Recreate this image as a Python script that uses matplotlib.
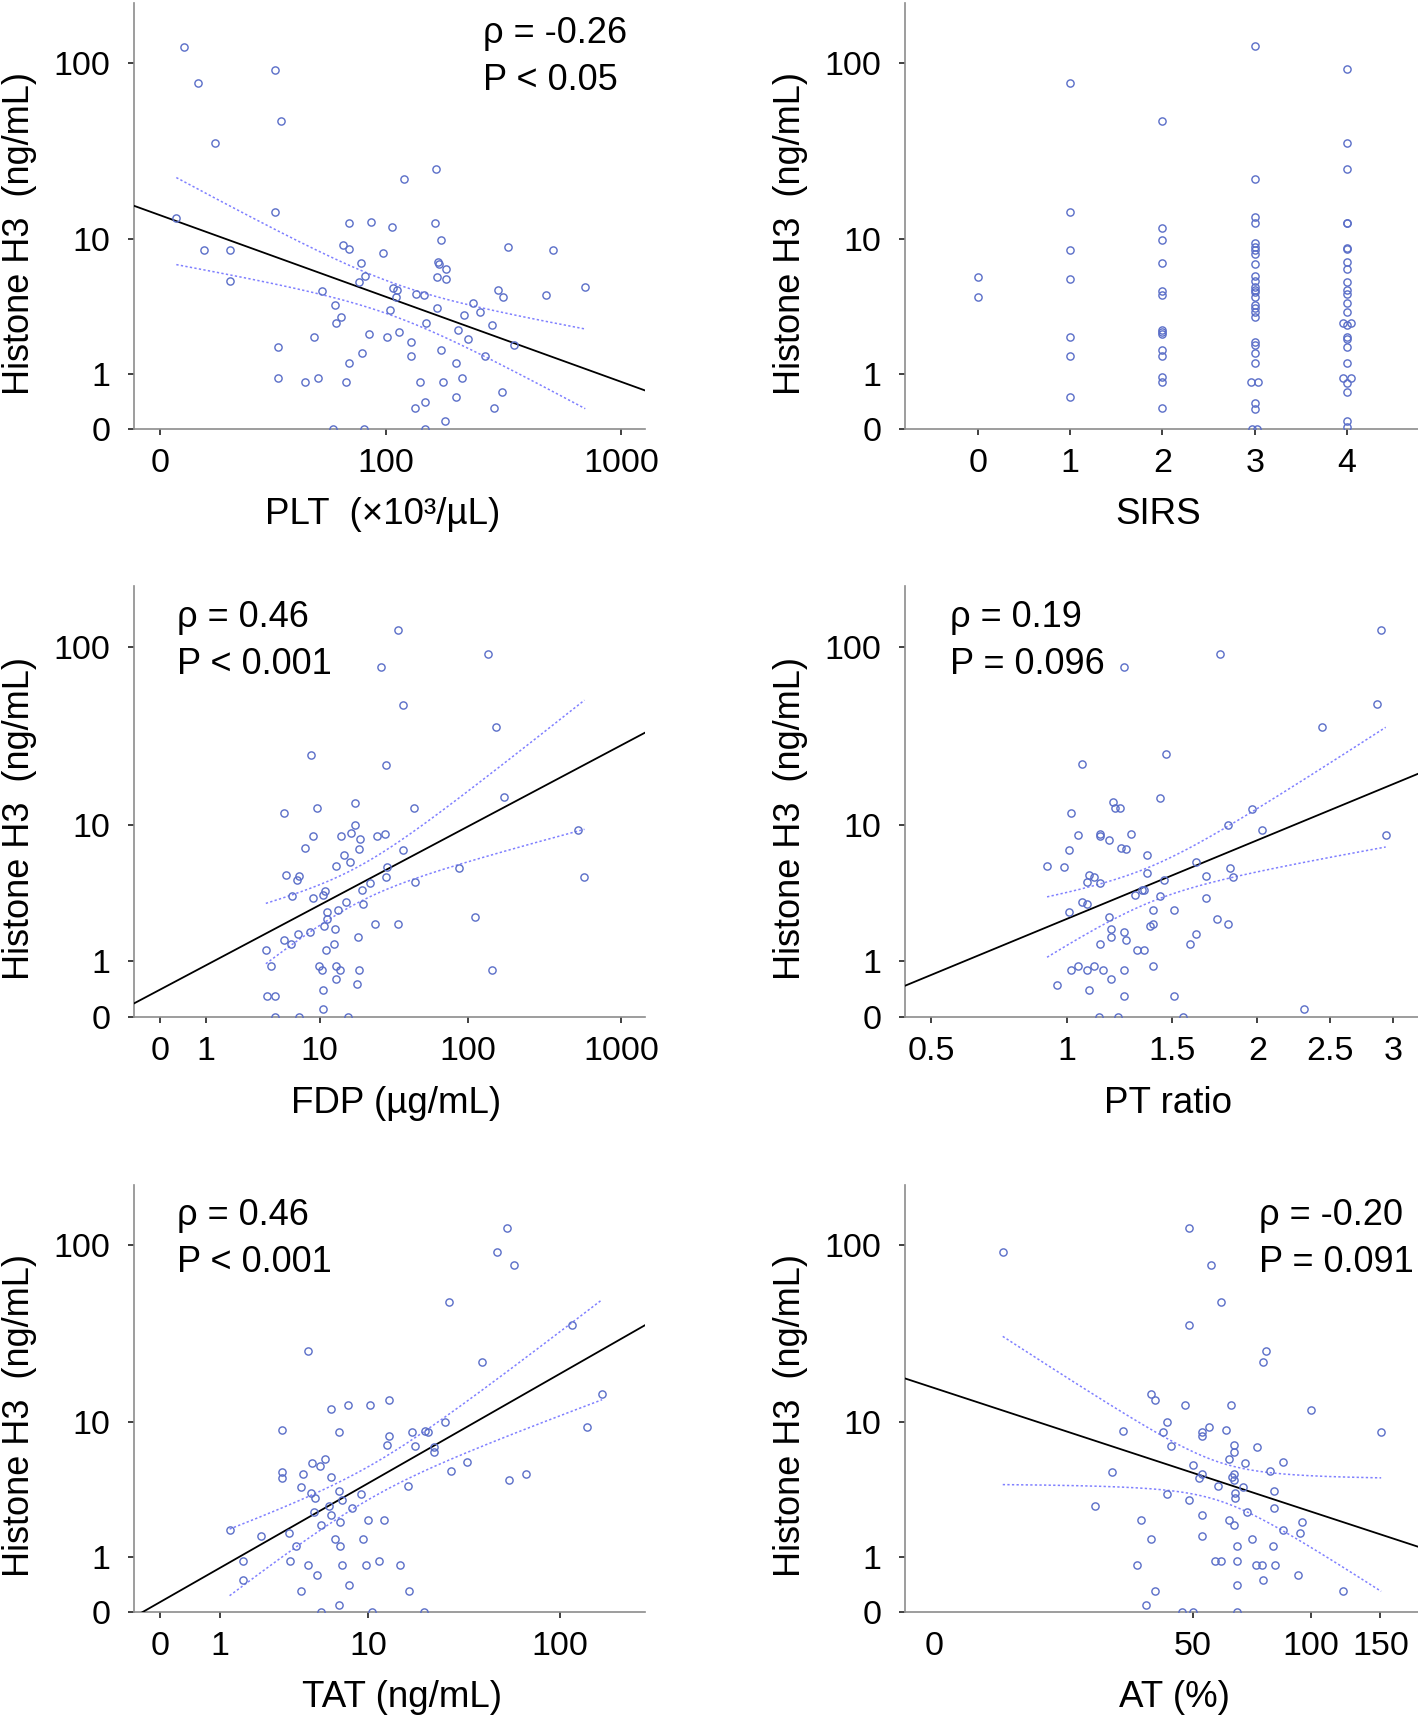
import numpy as np
import matplotlib
matplotlib.use('Agg')
import matplotlib.pyplot as plt

plt.rcParams['font.family'] = ['Liberation Sans', 'DejaVu Sans']

ylabel = 'Histone H3  (ng/mL)'
h3_ticks = [0, 1, 10, 100]
h3_top = 215

# --- PLT
plt_x = [3.5, 5.9, 26.7, 29, 9.4, 2.3, 7.1, 12.9, 12.9, 26.7, 28, 28, 40, 47, 44.6,
         49, 57, 58, 61, 63, 67, 67, 67, 64.5, 77, 80, 75, 77.6, 85, 84, 79, 56, 97,
         101, 107, 108, 112.5, 111, 104.6, 114.5, 120.6, 130, 130, 137, 149, 152, 143,
         135, 151, 151, 168, 166, 176.5, 171, 173, 186, 169, 185, 170, 176.5, 181, 183,
         205, 210, 205, 217, 221.5, 230.5, 243, 260, 272, 293, 297, 309, 326, 322, 341,
         362, 492, 524, 714]
plt_h3 = [123, 77.5, 92, 48, 36, 13.4, 8.6, 8.6, 5.5, 14.4, 1.8, 0.9, 0.8, 0.9, 2.2,
          4.7, 3.8, 2.8, 3.1, 9.2, 8.7, 12.4, 1.3, 0.8, 7.1, 5.9, 5.4, 1.6, 12.6, 2.3, 0,
          0, 8.2, 2.2, 11.8, 4.9, 4.8, 4.3, 3.5, 2.4, 22.3, 2.0, 1.5, 4.5, 4.4, 2.8, 0.8,
          0.31, 0.4, 0, 25.5, 12.4, 9.8, 7.2, 7.0, 6.5, 5.8, 5.6, 3.6, 1.7, 0.8, 0.1, 1.3,
          2.5, 0.5, 0.9, 3.2, 2.1, 3.9, 3.4, 1.5, 2.7, 0.31, 4.8, 4.3, 0.6, 8.9, 1.9, 4.4,
          8.6, 5.0]

# --- SIRS (small offsets where circles sit side by side)
sirs_x = [0, 0,
          1, 1, 1, 1, 1, 1, 1,
          2, 2, 2, 2, 2, 2, 2, 2, 2, 2, 2, 2, 2, 2,
          3, 3, 3, 3, 3, 3, 3, 3, 3, 3, 3, 3, 3, 3, 3, 3, 3, 3, 3, 3, 3, 3, 3,
          2.96, 3.04, 3, 3, 2.97, 3.03,
          4, 4, 4, 4, 4, 4, 4, 4, 4, 4, 4, 4, 4, 4, 3.96, 4.04, 4, 4, 4, 4, 4,
          3.96, 4.04, 4, 4, 4, 4]
sirs_h3 = [5.8, 4.3,
           77.5, 14.4, 8.6, 5.6, 2.2, 1.5, 0.5,
           48, 11.7, 9.8, 7.1, 4.7, 4.4, 2.5, 2.4, 2.3, 1.7, 1.5, 0.92, 0.8, 0.3,
           125, 22.5, 13.5, 12.5, 9.4, 8.9, 8.6, 8.1, 7.0, 5.9, 5.5, 5.0, 4.8, 4.6, 4.3,
           3.8, 3.6, 3.4, 3.1, 2.0, 1.9, 1.6, 1.3,
           0.8, 0.8, 0.39, 0.29, 0, 0,
           93, 36, 25.7, 12.5, 12.4, 8.8, 8.7, 7.2, 6.5, 5.4, 4.8, 4.5, 3.9, 3.4, 2.8, 2.8,
           2.7, 2.2, 2.1, 1.8, 1.3, 0.9, 0.9, 0.78, 0.6, 0.1, 0.03]

# --- FDP
fdp_x = [34.3, 135, 26.6, 37.3, 152, 8.7, 28.7, 174, 5.4, 9.5, 17.7, 44.4, 17.5, 8.9,
         14.1, 16.6, 25.1, 28, 19.2, 7.8, 18.8, 37.5, 14.9, 16.4, 13, 28.9, 87.5, 5.6,
         7.1, 6.8, 28.5, 579, 526, 45, 22.4, 19.7, 10.9, 10.6, 6.2, 8.9, 15.3, 19.9, 13.4,
         11.3, 11.3, 24.1, 34.3, 112, 10.8, 12.9, 8.5, 6.9, 5.4, 6.1, 18.5, 12.6, 3.9, 11,
         4.3, 9.9, 10.4, 13, 13.8, 18.9, 145, 13, 18.1, 10.5, 4.0, 4.6, 10.6, 4.6, 7.0, 15.9]
fdp_h3 = [124, 92, 78, 48, 36, 25.4, 22.3, 14.5, 11.7, 12.5, 13.5, 12.6, 9.9, 8.6, 8.6,
          8.9, 8.6, 8.8, 8.2, 7.2, 7.1, 7.0, 6.5, 5.9, 5.6, 5.5, 5.4, 4.9, 4.8, 4.5, 4.7,
          4.7, 9.3, 4.4, 4.3, 3.9, 3.8, 3.6, 3.5, 3.4, 3.2, 3.1, 2.8, 2.7, 2.4, 2.2, 2.2,
          2.5, 2.1, 2.0, 1.9, 1.8, 1.6, 1.5, 1.7, 1.5, 1.3, 1.3, 0.89, 0.89, 0.8, 0.89, 0.8,
          0.8, 0.8, 0.6, 0.5, 0.4, 0.3, 0.3, 0.1, 0, 0, 0]

# --- PT ratio
pt_x = [2.90, 1.772, 1.258, 2.87, 2.44, 1.47, 1.067, 1.44, 1.208, 1.218, 1.238, 1.018,
        1.966, 1.818, 2.03, 2.94, 1.05, 1.148, 1.148, 1.291, 1.189, 1.245, 1.269, 1.008,
        1.37, 0.918, 0.989, 1.63, 1.83, 1.099, 1.12, 1.37, 1.69, 1.85, 1.087, 1.148, 1.46,
        1.345, 1.358, 1.31, 1.44, 1.69, 1.067, 1.087, 1.008, 1.40, 1.51, 1.189, 1.75,
        1.818, 1.40, 1.388, 1.197, 1.258, 1.197, 1.63, 1.269, 1.148, 1.60, 1.322, 1.355,
        1.05, 1.12, 1.40, 1.018, 1.087, 1.16, 1.258, 1.199, 0.96, 1.099, 1.258, 1.51,
        2.31, 1.14, 1.23, 1.56]
pt_h3 = [124, 92, 78, 48.4, 36, 25.6, 22.4, 14.4, 13.6, 12.5, 12.5, 11.8, 12.4, 9.9, 9.3,
         8.7, 8.7, 8.8, 8.6, 8.8, 8.1, 7.2, 7.1, 7.0, 6.5, 5.6, 5.5, 5.9, 5.4, 4.9, 4.7,
         5.0, 4.8, 4.7, 4.4, 4.3, 4.5, 3.9, 3.9, 3.6, 3.5, 3.4, 3.2, 3.1, 2.7, 2.8, 2.8,
         2.5, 2.4, 2.2, 2.2, 2.1, 2.0, 1.9, 1.7, 1.8, 1.6, 1.5, 1.5, 1.3, 1.3, 0.89, 0.89,
         0.89, 0.8, 0.8, 0.8, 0.8, 0.6, 0.49, 0.4, 0.3, 0.3, 0.1, 0, 0, 0]

# --- TAT
tat_x = [54, 47.7, 58.2, 27.1, 115, 4.5, 39.8, 163, 13, 7.7, 10.3, 6.2, 25.8, 137, 3.1,
         6.9, 17.2, 20.2, 21.1, 13.1, 12.7, 18, 22.5, 22.6, 5.7, 4.8, 5.3, 33.7, 27.8, 3.1,
         3.1, 4.2, 6.2, 67.5, 55, 4.1, 16.5, 4.7, 6.9, 9.1, 5.0, 7.2, 6.0, 8.2, 4.9, 6.2,
         10, 12.2, 7.0, 5.4, 1.23, 2.2, 3.4, 6.5, 9.4, 3.8, 7.0, 1.6, 3.5, 11.5, 4.5, 7.2,
         9.7, 15, 5.1, 1.6, 7.8, 4.1, 16.7, 6.9, 5.4, 10.5, 20]
tat_h3 = [124, 92.5, 78, 48.4, 36, 25.7, 22.4, 14.5, 13.5, 12.6, 12.5, 11.8, 9.9, 9.3,
          8.9, 8.7, 8.7, 8.8, 8.7, 8.2, 7.2, 7.1, 7.0, 6.5, 5.9, 5.5, 5.3, 5.6, 4.9, 4.8,
          4.4, 4.7, 4.5, 4.7, 4.3, 3.8, 3.9, 3.5, 3.6, 3.4, 3.2, 3.1, 2.8, 2.7, 2.5, 2.4,
          2.2, 2.2, 2.1, 2.0, 1.8, 1.6, 1.7, 1.5, 1.5, 1.3, 1.3, 0.9, 0.9, 0.9, 0.8, 0.8,
          0.8, 0.8, 0.59, 0.5, 0.4, 0.3, 0.3, 0.09, 0, 0, 0]

# --- AT
at_x = [48.9, 16, 55.8, 58.9, 48.9, 77, 75.7, 39, 40, 47.9, 62.8, 100, 43, 55, 33, 41.9,
        52.7, 60.8, 150.6, 52.7, 44, 63.9, 72.8, 63.9, 61.9, 50, 67.8, 84.7, 31, 52.7,
        63.9, 78.8, 52, 63.1, 63.9, 58, 67.2, 64, 80.8, 43, 64, 48.9, 28, 80.8, 68.8, 52.9,
        36.9, 61.9, 63.9, 94.7, 84.7, 93.8, 52.9, 39, 70.8, 65, 80, 57, 58.9, 65, 36, 72.5,
        75.2, 81, 92.8, 75.7, 65, 40, 120.7, 38, 47, 50, 65]
at_h3 = [124, 92.5, 78, 48.4, 36, 25.7, 22.4, 14.5, 13.5, 12.5, 12.6, 11.7, 9.9, 9.3, 8.8,
         8.7, 8.7, 8.9, 8.7, 8.2, 7.1, 7.2, 7.0, 6.5, 5.9, 5.4, 5.5, 5.6, 4.8, 4.7, 4.7,
         4.9, 4.4, 4.5, 4.3, 3.9, 3.8, 3.5, 3.6, 3.4, 3.2, 3.1, 2.8, 2.7, 2.5, 2.4, 2.2,
         2.2, 2.0, 2.1, 1.8, 1.7, 1.6, 1.5, 1.5, 1.3, 1.3, 0.9, 0.9, 0.9, 0.8, 0.8, 0.8,
         0.8, 0.59, 0.5, 0.4, 0.3, 0.3, 0.09, 0, 0, 0]

stats = {
    'PLT': ('ρ = -0.26', 'P < 0.05'),
    'FDP': ('ρ = 0.46', 'P < 0.001'),
    'PT': ('ρ = 0.19', 'P = 0.096'),
    'TAT': ('ρ = 0.46', 'P < 0.001'),
    'AT': ('ρ = -0.20', 'P = 0.091'),
}

pt_color = '#5a6ec8'
band_color = '#8080ff'
spine_color = '#8c8c8c'


def shifted_log(c):
    fwd = lambda v: np.log10(np.maximum(np.asarray(v, dtype=float) + c, 1e-6))
    inv = lambda v: 10 ** np.asarray(v, dtype=float) - c
    return fwd, inv


fy, iy = shifted_log(1)

panels = [
    dict(x=plt_x, y=plt_h3, xlabel='PLT  (×10³/µL)', shift=14, xlim=(-3, 1254),
         ticks=[0, 100, 1000], labels=['0', '100', '1000'], key='PLT', tx=0.683, lx=0.487),
    dict(x=sirs_x, y=sirs_h3, xlabel='SIRS', shift=None, xlim=(-0.79, 4.77),
         ticks=[0, 1, 2, 3, 4], labels=['0', '1', '2', '3', '4'], key=None, lx=0.493),
    dict(x=fdp_x, y=fdp_h3, xlabel='FDP (µg/mL)', shift=1, xlim=(-0.32, 1435),
         ticks=[0, 1, 10, 100, 1000], labels=['0', '1', '10', '100', '1000'], key='FDP',
         tx=0.084, lx=0.513),
    dict(x=pt_x, y=pt_h3, xlabel='PT ratio', shift=1, xlim=(0.418, 3.22),
         ticks=[0.5, 1, 1.5, 2, 2.5, 3], labels=['0.5', '1', '1.5', '2', '2.5', '3'], key='PT',
         tx=0.088, lx=0.512),
    dict(x=tat_x, y=tat_h3, xlabel='TAT (ng/mL)', shift=1, xlim=(-0.26, 268),
         ticks=[0, 1, 10, 100], labels=['0', '1', '10', '100'], key='TAT', tx=0.084, lx=0.524),
    # the "0" on the AT axis is a bare label with no tick mark
    dict(x=at_x, y=at_h3, xlabel='AT (%)', shift=1, xlim=(8.66, 186.6),
         ticks=[10.4, 50, 100, 150], labels=['0', '50', '100', '150'], key='AT', tx=0.690,
         lx=0.525),
]

# axes boxes in figure pixels: left, right, top, bottom
W, H = 1418, 1721
cols = [(134, 645), (905, 1418)]
rows = [(3, 429), (586, 1017), (1185, 1612)]

fig = plt.figure(figsize=(W / 100, H / 100), dpi=100)

for i, p in enumerate(panels):
    (l, r), (t, b) = cols[i % 2], rows[i // 2]
    ax = fig.add_axes([l / W, 1 - b / H, (r - l) / W, (b - t) / H])

    if p['shift'] is not None:
        fx, ix = shifted_log(p['shift'])
        ax.set_xscale('function', functions=(fx, ix))
    ax.set_yscale('function', functions=(fy, iy))
    ax.set_xlim(*p['xlim'])
    ax.set_ylim(0, h3_top)

    x = np.asarray(p['x'], dtype=float)
    y = np.asarray(p['y'], dtype=float)

    if p['key'] is not None:
        # least squares fit in the transformed space with 95% confidence curves
        xt, yt = fx(x), fy(y)
        n = len(xt)
        b1, b0 = np.polyfit(xt, yt, 1)
        s = np.sqrt(np.sum((yt - (b0 + b1 * xt)) ** 2) / (n - 2))
        xm = xt.mean()
        sxx = np.sum((xt - xm) ** 2)
        lt = fx(np.array(p['xlim']))
        ax.plot(ix(lt), iy(b0 + b1 * lt), color='black', lw=1.3, zorder=3)
        g = np.linspace(xt.min(), xt.max(), 200)
        se = s * np.sqrt(1 / n + (g - xm) ** 2 / sxx)
        for sign in (1, -1):
            ax.plot(ix(g), iy(b0 + b1 * g + sign * 1.99 * se), color=band_color,
                    lw=1.1, ls=(0, (1.5, 1.5)), zorder=2)
        r1, r2 = stats[p['key']]
        ax.text(p['tx'], 0.873, r1 + '\n' + r2, transform=ax.transAxes, fontsize=26,
                va='center', ha='left', linespacing=1.45)

    ax.plot(x, y, 'o', mfc='none', mec=pt_color, ms=5.2, mew=1.0, zorder=4)

    ax.set_xticks(p['ticks'])
    ax.set_xticklabels(p['labels'])
    ax.xaxis.set_minor_locator(matplotlib.ticker.NullLocator())
    ax.set_yticks(h3_ticks)
    ax.set_yticklabels([str(v) for v in h3_ticks])
    ax.yaxis.set_minor_locator(matplotlib.ticker.NullLocator())
    if p['key'] == 'AT':
        ax.xaxis.get_major_ticks()[0].tick1line.set_visible(False)

    for side in ('top', 'right'):
        ax.spines[side].set_visible(False)
    for side in ('left', 'bottom'):
        ax.spines[side].set_color(spine_color)
        ax.spines[side].set_linewidth(1.2)
    ax.tick_params(axis='both', direction='out', length=4, width=1.4, color='#404040',
                   labelsize=24.5)
    ax.tick_params(axis='x', pad=10)
    ax.tick_params(axis='y', pad=13)

    ax.set_ylabel(ylabel, fontsize=26)
    ax.yaxis.set_label_coords(-0.19, 0.46)
    ax.set_xlabel(p['xlabel'], fontsize=26.5)
    ax.xaxis.set_label_coords(p['lx'], -0.16)

fig.savefig('out.png', dpi=100)
